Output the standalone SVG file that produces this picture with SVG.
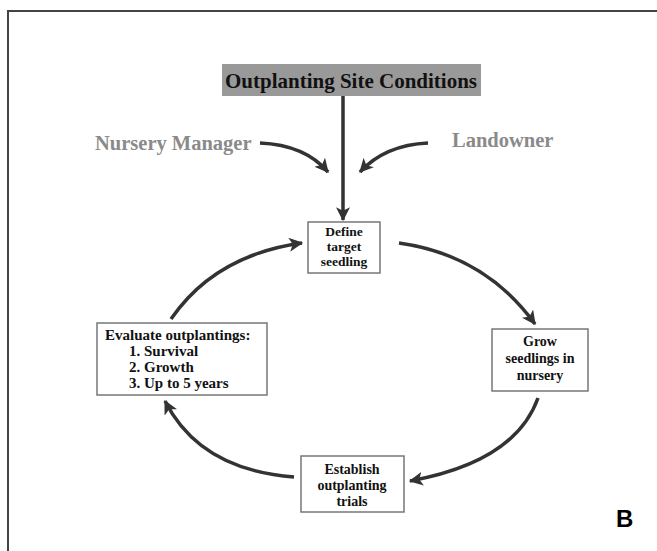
<svg xmlns="http://www.w3.org/2000/svg" width="657" height="551" viewBox="0 0 657 551">
<defs>
<style>
.box{fill:#fff;stroke:#777;stroke-width:1.5}
.t{font-family:"Liberation Serif","Times New Roman",serif;font-weight:bold;fill:#111;text-anchor:middle}
.c{fill:none;stroke:#333;stroke-width:3.5}
.g{font-family:"Liberation Serif","Times New Roman",serif;font-weight:bold;fill:#8a8a8a;font-size:20.5px}
</style>
<marker id="ah" markerUnits="userSpaceOnUse" viewBox="0 0 12 12" markerWidth="14" markerHeight="14" refX="11" refY="6" orient="auto">
<path d="M0,0 L12,6 L0,12 L3,6 z" fill="#333"/>
</marker>
</defs>
<rect width="657" height="551" fill="#fff"/>
<path d="M8,551 V11 H657" fill="none" stroke="#444" stroke-width="2"/>
<g id="site">
<rect x="222" y="64" width="259" height="32" fill="#999"/>
<text class="t" x="351" y="88" font-size="21">Outplanting Site Conditions</text>
</g>
<g id="nursery-manager"><text class="g" x="95" y="150">Nursery Manager</text></g>
<g id="landowner"><text class="g" x="452" y="147">Landowner</text></g>
<g id="define">
<rect class="box" x="308" y="222" width="72" height="51"/>
<text class="t" x="344" y="236" font-size="13.5">Define</text>
<text class="t" x="344" y="251" font-size="13.5">target</text>
<text class="t" x="344" y="266" font-size="13.5">seedling</text>
</g>
<g id="grow">
<rect class="box" x="492" y="329" width="96" height="62"/>
<text class="t" x="540" y="346" font-size="14">Grow</text>
<text class="t" x="540" y="363" font-size="14">seedlings in</text>
<text class="t" x="540" y="380" font-size="14">nursery</text>
</g>
<g id="establish">
<rect class="box" x="301" y="456" width="103" height="56"/>
<text class="t" x="352" y="474" font-size="14">Establish</text>
<text class="t" x="352" y="490" font-size="14">outplanting</text>
<text class="t" x="352" y="506" font-size="14">trials</text>
</g>
<g id="evaluate">
<rect class="box" x="97" y="323" width="170" height="72"/>
<text class="t" x="105" y="340" font-size="15" style="text-anchor:start">Evaluate outplantings:</text>
<text class="t" x="129" y="356" font-size="15" style="text-anchor:start">1. Survival</text>
<text class="t" x="129" y="372" font-size="15" style="text-anchor:start">2. Growth</text>
<text class="t" x="129" y="388" font-size="15" style="text-anchor:start">3. Up to 5 years</text>
</g>
<g id="label-b"><text x="616" y="527" font-family="Liberation Sans,Arial,sans-serif" font-weight="bold" font-size="24" fill="#000">B</text></g>
<g id="connectors">
<path class="c" d="M343,96 V220" marker-end="url(#ah)"/>
<path class="c" d="M260,143 Q305,145 328,172" marker-end="url(#ah)"/>
<path class="c" d="M428,143 Q385,145 360,172" marker-end="url(#ah)"/>
<path class="c" d="M399,243 Q485,255 535,324" marker-end="url(#ah)"/>
<path class="c" d="M538,398 Q515,462 410,481" marker-end="url(#ah)"/>
<path class="c" d="M294,477 Q200,470 165,401" marker-end="url(#ah)"/>
<path class="c" d="M171,319 Q215,255 302,243" marker-end="url(#ah)"/>
</g>
</svg>
